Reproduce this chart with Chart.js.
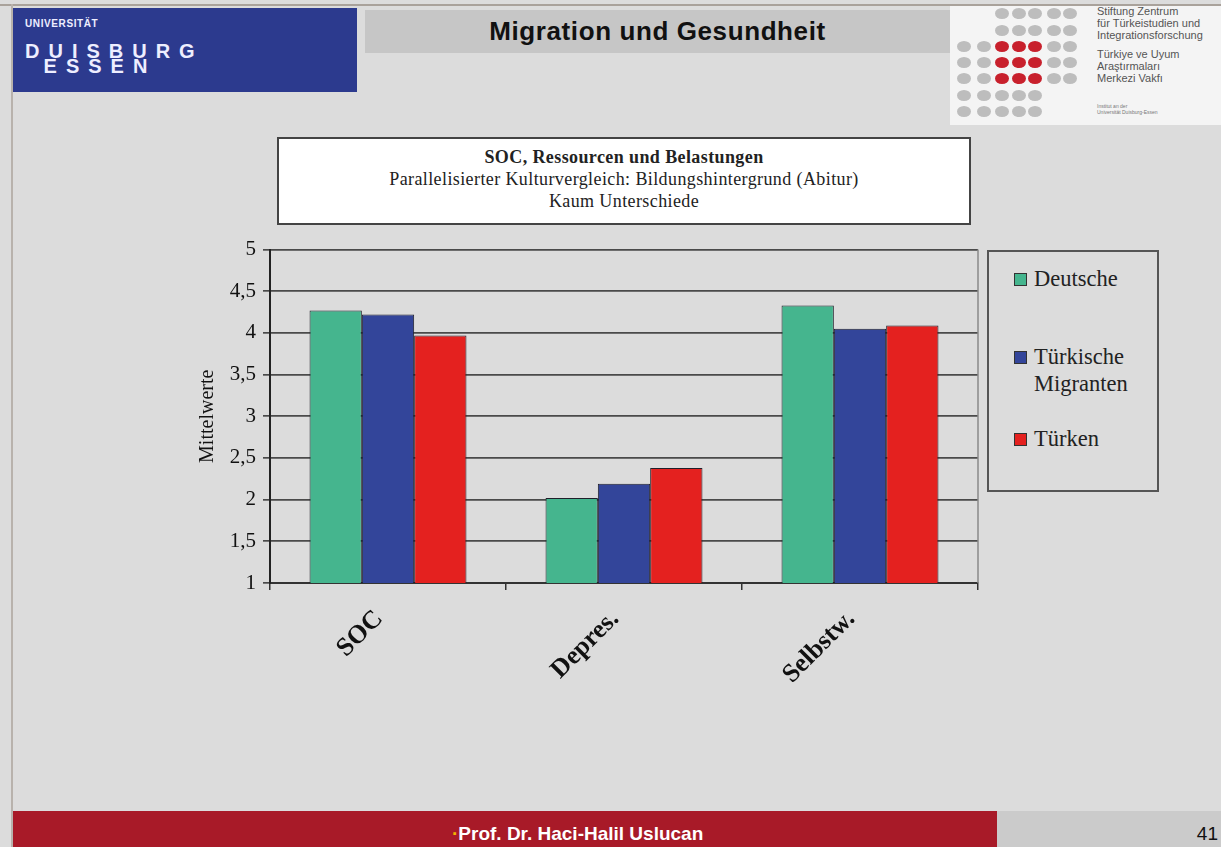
<!DOCTYPE html>
<html>
<head>
<meta charset="utf-8">
<script src="https://cdn.jsdelivr.net/npm/chart.js@4.4.0/dist/chart.umd.min.js"></script>
<style>
    html, body { margin: 0; padding: 0; }
    body { width: 1221px; height: 847px; background: #dcdcdc; position: relative; overflow: hidden; font-family: 'Liberation Sans', Arial, sans-serif; }
    .abs { position: absolute; }
    #frame-top { left: 0; top: 4px; width: 1221px; height: 2px; background: #a9a29b; }
    #frame-left { left: 11px; top: 4px; width: 2px; height: 843px; background: #b8b2ac; }
    #uni { left: 13px; top: 8px; width: 344px; height: 84px; background: #2c3a8e; color: #eef; }
    #uni .u1 { position: absolute; left: 12px; top: 10px; font-size: 10px; font-weight: bold; letter-spacing: 0.6px; }
    #uni .u2 { position: absolute; left: 12px; top: 32px; font-size: 20px; font-weight: bold; letter-spacing: 9px; }
    #uni .u3 { position: absolute; left: 16px; top: 47px; font-size: 20px; font-weight: bold; letter-spacing: 9px; }
    #titlebar { left: 365px; top: 10px; width: 585px; height: 43px; background: #c6c6c6; text-align: center; line-height: 43px; font-size: 26px; letter-spacing: 0.6px; font-weight: bold; color: #111; }
    #stift { left: 950px; top: 6px; width: 271px; height: 119px; background: #f4f4f4; }
    #stift .dot { position: absolute; width: 14px; height: 11px; border-radius: 50%; background: #bdbdbd; }
    #stift .dot.red { background: #c8202c; }
    #stift .t { position: absolute; left: 147px; font-size: 11px; color: #555; line-height: 12px; white-space: nowrap; }
    #stift .s { position: absolute; left: 147px; font-size: 5px; color: #777; line-height: 6px; white-space: nowrap; }
    #caption { left: 277px; top: 137px; width: 690px; height: 84px; background: #fff; border: 2px solid #444; text-align: center; font-family: 'Liberation Serif', 'Times New Roman', serif; font-size: 18px; letter-spacing: 0.4px; color: #222; }
    #caption div { line-height: 22px; }
    #caption .b { font-weight: bold; margin-top: 7px; }
    #chartbox { left: 190px; top: 230px; width: 790px; height: 452px; }
    #legend { left: 987px; top: 250px; width: 168px; height: 238px; border: 2px solid #555; font-family: 'Liberation Serif', 'Times New Roman', serif; font-size: 22.5px; color: #222; }
    #legend .item { position: absolute; left: 25px; line-height: 27px; }
    #legend .sw { position: absolute; left: 0; top: 8px; width: 11px; height: 11px; border: 1px solid #333; }
    #legend .lbl { margin-left: 20px; }
    #footer { left: 13px; top: 811px; width: 984px; height: 36px; background: #a81a28; }
    #footer-text { left: 452px; top: 823px; color: #fff; font-family: 'Liberation Sans Narrow', 'Arial Narrow', sans-serif; font-size: 19px; font-weight: bold; white-space: nowrap; }
    #footer-text span { color: #f2b400; }
    #pagebox { left: 997px; top: 811px; width: 224px; height: 36px; background: #cbcbcb; }
    #pagenum { right: 3px; top: 823px; font-size: 19px; color: #111; }
</style>
</head>
<body>
<div id="frame-top" class="abs"></div>
<div id="frame-left" class="abs"></div>
<div id="uni" class="abs">
    <div class="u1">UNIVERSITÄT</div>
    <div class="u2">DUISBURG</div>
    <div class="u3">&nbsp;ESSEN</div>
</div>
<div id="titlebar" class="abs">Migration und Gesundheit</div>
<div id="stift" class="abs"></div>
<div id="caption" class="abs">
    <div class="b">SOC, Ressourcen und Belastungen</div>
    <div>Parallelisierter Kulturvergleich: Bildungshintergrund (Abitur)</div>
    <div>Kaum Unterschiede</div>
</div>
<div id="chartbox" class="abs"><canvas id="barChart" width="790" height="452"></canvas></div>
<div id="legend" class="abs"></div>
<div id="footer" class="abs"></div>
<div id="footer-text" class="abs"><span>·</span>Prof. Dr. Haci-Halil Uslucan</div>
<div id="pagebox" class="abs"></div>
<div id="pagenum" class="abs">41</div>

<script>
const categories = ['SOC', 'Depres.', 'Selbstw.'];
const deutsche = [4.27, 2.02, 4.33];
const tuerkMigranten = [4.22, 2.19, 4.05];
const tuerken = [3.97, 2.38, 4.09];
const yTicks = [1, 1.5, 2, 2.5, 3, 3.5, 4, 4.5, 5];

const seriesInfo = [
    { label: ['Deutsche'], data: deutsche, color: '#45b58e' },
    { label: ['Türkische', 'Migranten'], data: tuerkMigranten, color: '#33459a' },
    { label: ['Türken'], data: tuerken, color: '#e4211f' }
];

function drawLogoDots() {
    const box = document.getElementById('stift');
    const rowsY = [2, 19, 35, 51, 67, 84, 100];
    const colsX = [7, 27, 45, 62, 78, 97, 113];
    const rowCols = [[2, 6], [2, 6], [0, 6], [0, 6], [0, 6], [0, 4], [0, 4]];
    rowsY.forEach((y, r) => {
        for (let c = rowCols[r][0]; c <= rowCols[r][1]; c++) {
            const d = document.createElement('div');
            d.className = 'dot' + (r >= 2 && r <= 4 && c >= 2 && c <= 4 ? ' red' : '');
            d.style.left = colsX[c] + 'px';
            d.style.top = y + 'px';
            box.appendChild(d);
        }
    });
    const lines = [
        ['Stiftung Zentrum', -1], ['für Türkeistudien und', 11], ['Integrationsforschung', 23],
        ['Türkiye ve Uyum', 42], ['Araştırmaları', 54], ['Merkezi Vakfı', 66]
    ];
    lines.forEach(([txt, top]) => {
        const t = document.createElement('div');
        t.className = 't';
        t.style.top = top + 'px';
        t.textContent = txt;
        box.appendChild(t);
    });
    [['Institut an der', 97], ['Universität Duisburg-Essen', 103]].forEach(([txt, top]) => {
        const t = document.createElement('div');
        t.className = 's';
        t.style.top = top + 'px';
        t.textContent = txt;
        box.appendChild(t);
    });
}

function buildLegend() {
    const legend = document.getElementById('legend');
    const tops = [13, 91, 173];
    seriesInfo.forEach((s, i) => {
        const item = document.createElement('div');
        item.className = 'item';
        item.style.top = tops[i] + 'px';
        item.innerHTML = `<div class="sw" style="background:${s.color}"></div><div class="lbl">${s.label.join('<br>')}</div>`;
        legend.appendChild(item);
    });
}

// right edge of the plot frame
const frameLine = {
    id: 'frameLine',
    afterDraw(chart) {
        const { ctx, chartArea } = chart;
        ctx.save();
        ctx.strokeStyle = '#8a8a8a';
        ctx.lineWidth = 1.5;
        ctx.beginPath();
        ctx.moveTo(chartArea.right, chartArea.top);
        ctx.lineTo(chartArea.right, chartArea.bottom);
        ctx.stroke();
        ctx.restore();
    }
};

function renderChart() {
    const ctx = document.getElementById('barChart').getContext('2d');
    new Chart(ctx, {
        type: 'bar',
        data: {
            labels: categories,
            datasets: seriesInfo.map(s => ({
                label: s.label.join(' '),
                data: s.data,
                backgroundColor: s.color,
                borderColor: '#1f1f2a',
                borderWidth: 1,
                barPercentage: 1.0,
                categoryPercentage: 0.665
            }))
        },
        options: {
            responsive: false,
            animation: false,
            layout: { padding: { top: 4, right: 2, left: 6, bottom: 0 } },
            plugins: { legend: { display: false }, tooltip: { enabled: false } },
            scales: {
                x: {
                    afterFit: axis => { axis.height = 99; },
                    grid: { offset: true, drawOnChartArea: false, drawTicks: true, tickLength: 7, color: '#333', lineWidth: 1.5 },
                    border: { color: '#333', width: 2 },
                    ticks: {
                        minRotation: 45, maxRotation: 45, padding: 14, labelOffset: -9,
                        color: '#111',
                        font: { family: "'Liberation Serif', 'Times New Roman', serif", size: 26, weight: 'bold' }
                    }
                },
                y: {
                    min: 1, max: 5,
                    afterFit: axis => { axis.width = 74; },
                    afterBuildTicks: axis => { axis.ticks = yTicks.map(v => ({ value: v })); },
                    grid: { color: '#4a4a4a', lineWidth: 1.7, tickLength: 7 },
                    border: { color: '#222', width: 2 },
                    title: {
                        display: true, text: 'Mittelwerte', color: '#111', padding: { top: 0, bottom: 0 },
                        font: { family: "'Liberation Serif', 'Times New Roman', serif", size: 20 }
                    },
                    ticks: {
                        color: '#111', padding: 7,
                        font: { family: "'Liberation Serif', 'Times New Roman', serif", size: 21 },
                        callback: v => String(v).replace('.', ',')
                    }
                }
            }
        },
        plugins: [frameLine]
    });
}

drawLogoDots();
buildLegend();
renderChart();
</script>
</body>
</html>
